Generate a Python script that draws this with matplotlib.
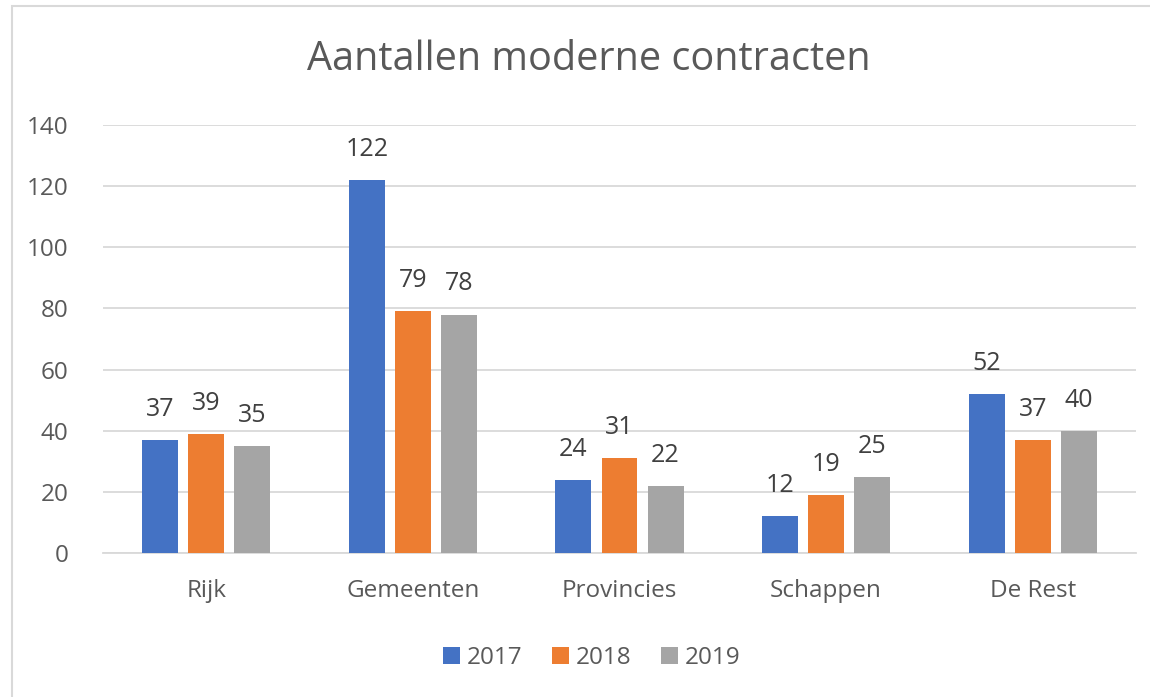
import matplotlib.pyplot as plt
import numpy as np
from matplotlib.patches import Rectangle

categories = ["Rijk", "Gemeenten", "Provincies", "Schappen", "De Rest"]
years = ["2017", "2018", "2019"]
v2017 = [37, 122, 24, 12, 52]
v2018 = [39, 79, 31, 19, 37]
v2019 = [35, 78, 22, 25, 40]
yticks = [0, 20, 40, 60, 80, 100, 120, 140]

colors = ["#4472C4", "#ED7D31", "#A5A5A5"]
text_col = "#595959"

plt.rcParams['font.family'] = ['Open Sans', 'DejaVu Sans']

fig = plt.figure(figsize=(11.5, 6.97), dpi=100)
# light border around the chart area
fig.patches.append(Rectangle((12 / 1150, -0.01), 1.02, (697 - 6) / 697 + 0.01,
                             transform=fig.transFigure, fill=False,
                             edgecolor="#D9D9D9", linewidth=1.5))

ax = fig.add_axes([103 / 1150, 144 / 697, 1033 / 1150, 428 / 697])

x = np.arange(len(categories))
width = 0.174
pitch = 0.223
for i, (vals, yr) in enumerate(zip([v2017, v2018, v2019], years)):
    bars = ax.bar(x + (i - 1) * pitch, vals, width, color=colors[i], label=yr, zorder=3)
    for b, v in zip(bars, vals):
        ax.text(b.get_x() + b.get_width() / 2, v + 10, str(v), ha="center", va="center",
                fontsize=18, color="#404040")

ax.set_xlim(-0.5, len(categories) - 0.5)
ax.set_ylim(0, 140)
ax.set_yticks(yticks)
ax.set_xticks(x)
ax.set_xticklabels(categories)
ax.tick_params(axis="both", length=0, labelsize=17.5, colors=text_col)
ax.tick_params(axis="y", pad=25)
ax.tick_params(axis="x", pad=19)
ax.grid(axis="y", color="#D9D9D9", linewidth=1.3, zorder=0)
for s in ["top", "right", "left"]:
    ax.spines[s].set_visible(False)
ax.spines["bottom"].set_color("#D9D9D9")
ax.spines["bottom"].set_linewidth(1.3)

fig.text(589 / 1150, 1 - 60 / 697, "Aantallen moderne contracten", ha="center", va="center",
         fontsize=28.5, color=text_col)

ax.legend(loc="center", bbox_to_anchor=(0.473, -0.246), ncol=3, frameon=False,
          fontsize=17.5, handlelength=0.7, handleheight=0.7, handletextpad=0.3,
          columnspacing=1.2, labelcolor=text_col)

fig.savefig("out.png", dpi=100, facecolor="white")
